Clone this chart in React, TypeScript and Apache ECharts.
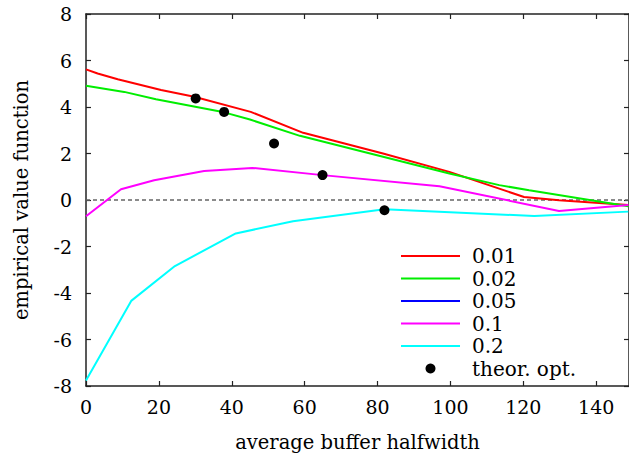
import React, { useEffect, useRef } from "react";
import * as echarts from "echarts";

// series 0.01 (red)
const redX = [0, 3.2, 8.7, 20.6, 29.7, 45.2, 59.6, 81.5, 99.7, 120.2, 129.8, 148.8];
const redY = [5.62, 5.44, 5.19, 4.73, 4.44, 3.79, 2.89, 2.0, 1.21, 0.13, -0.01, -0.22];
// series 0.02 (green)
const greenX = [0, 10.5, 19.2, 37.9, 45, 58.7, 99.7, 113.4, 121.6, 148.8];
const greenY = [4.91, 4.65, 4.33, 3.77, 3.46, 2.76, 1.14, 0.64, 0.42, -0.27];
// series 0.05 (blue) - not visible in plot
const blueX: number[] = [];
const blueY: number[] = [];
// series 0.1 (magenta)
const magentaX = [0, 9.6, 18.7, 32.4, 45.6, 64.9, 97, 129.8, 148.8];
const magentaY = [-0.7, 0.46, 0.85, 1.25, 1.38, 1.07, 0.59, -0.47, -0.22];
// series 0.2 (cyan)
const cyanX = [0, 12.4, 24.4, 41.1, 56.8, 81.9, 123, 148.8];
const cyanY = [-7.76, -4.34, -2.84, -1.44, -0.91, -0.4, -0.69, -0.5];
// theoretical optimum points
const optX = [30.1, 37.9, 51.6, 64.9, 81.9];
const optY = [4.37, 3.79, 2.43, 1.07, -0.44];
// zero reference line
const zeroX = [0, 149];
const zeroY = [0, 0];

const lineNames = ["0.01", "0.02", "0.05", "0.1", "0.2"];
const pointName = "theor. opt.";

const FONT = "DejaVu Serif";

function pairs(xs: number[], ys: number[]) {
  return xs.map((x, i) => [x, ys[i]]);
}

export default function App() {
  const ref = useRef<HTMLDivElement>(null);
  useEffect(() => {
    if (!ref.current) return;
    const chart = echarts.init(ref.current, null, { renderer: "svg" });
    const axisLine = { show: true, onZero: false, lineStyle: { color: "#222", width: 1.5 } };
    const axisTick = { show: true, inside: true, length: 5, lineStyle: { color: "#222", width: 1.2 } };
    const lineSeries = (name: string, xs: number[], ys: number[], color: string) => ({
      name,
      type: "line",
      data: pairs(xs, ys),
      symbol: "none",
      showSymbol: false,
      lineStyle: { color, width: 2 },
      itemStyle: { color },
      z: 3,
    });
    chart.setOption({
      animation: false,
      backgroundColor: "#fff",
      textStyle: { fontFamily: FONT },
      grid: { left: 86, right: -2, top: 14, bottom: 75, show: false },
      xAxis: [
        {
          type: "value",
          min: 0,
          max: 149,
          interval: 20,
          position: "bottom",
          axisLine,
          axisTick,
          splitLine: { show: false },
          axisLabel: { fontFamily: FONT, fontSize: 19, color: "#000", margin: 11, showMaxLabel: false },
          name: "average buffer halfwidth",
          nameLocation: "middle",
          nameGap: 46,
          nameTextStyle: { fontFamily: FONT, fontSize: 19.5, color: "#000" },
        },
        {
          type: "value",
          min: 0,
          max: 149,
          interval: 20,
          position: "top",
          axisLine,
          axisTick,
          splitLine: { show: false },
          axisLabel: { show: false },
        },
      ],
      yAxis: [
        {
          type: "value",
          min: -8,
          max: 8,
          interval: 2,
          position: "left",
          axisLine,
          axisTick,
          splitLine: { show: false },
          axisLabel: { fontFamily: FONT, fontSize: 19, color: "#000", margin: 14 },
          name: "empirical value function",
          nameLocation: "middle",
          nameGap: 55,
          nameTextStyle: { fontFamily: FONT, fontSize: 19.5, color: "#000" },
        },
        {
          type: "value",
          min: -8,
          max: 8,
          interval: 2,
          position: "right",
          axisLine,
          axisTick,
          splitLine: { show: false },
          axisLabel: { show: false },
        },
      ],
      legend: {
        orient: "vertical",
        left: 400,
        top: 246,
        padding: 0,
        itemWidth: 59,
        itemHeight: 10,
        itemGap: 2.5,
        data: [
          ...lineNames.map((n) => ({ name: n, itemStyle: { opacity: 0 } })),
          { name: pointName, itemStyle: { opacity: 1 } },
        ],
        textStyle: { fontFamily: FONT, fontSize: 20, color: "#000", padding: [0, 0, 0, 7], lineHeight: 20 },
      },
      series: [
        {
          name: "zero",
          type: "line",
          data: pairs(zeroX, zeroY),
          symbol: "none",
          lineStyle: { color: "#666", width: 1.5, type: [4, 3] },
          z: 2,
          silent: true,
        },
        lineSeries(lineNames[0], redX, redY, "#ff0000"),
        lineSeries(lineNames[1], greenX, greenY, "#00ee00"),
        lineSeries(lineNames[2], blueX, blueY, "#0000ff"),
        lineSeries(lineNames[3], magentaX, magentaY, "#ff00ff"),
        lineSeries(lineNames[4], cyanX, cyanY, "#00ffff"),
        {
          name: pointName,
          type: "scatter",
          data: pairs(optX, optY),
          symbol: "circle",
          symbolSize: 10,
          itemStyle: { color: "#000", opacity: 1 },
          z: 5,
        },
      ],
    });
    return () => chart.dispose();
  }, []);
  return (
    <div
      ref={ref}
      style={{ position: "fixed", left: 0, top: 0, width: 629, height: 461, background: "#fff" }}
    />
  );
}
